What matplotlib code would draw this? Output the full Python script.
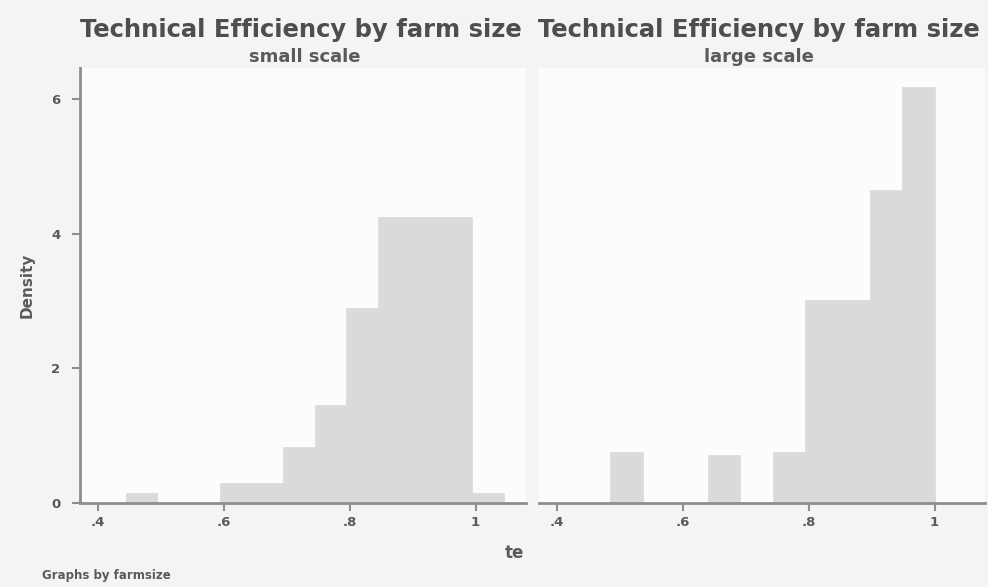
import numpy as np
import matplotlib.pyplot as plt

# histogram bins (te) and densities
small_edges = [0.445, 0.495, 0.545, 0.595, 0.645, 0.695, 0.745, 0.795, 0.845, 0.895, 0.945, 0.995, 1.045]
small_dens = [0.15, 0, 0, 0.30, 0.30, 0.83, 1.46, 2.9, 4.25, 4.25, 4.25, 0.15]

large_edges = [0.485, 0.537, 0.588, 0.640, 0.691, 0.743, 0.795, 0.846, 0.898, 0.949, 1.001]
large_dens = [0.76, 0, 0, 0.71, 0, 0.76, 3.02, 3.02, 4.65, 6.18]

panel_names = ["small scale", "large scale"]
xticks = [0.4, 0.6, 0.8, 1.0]
xticklabels = [".4", ".6", ".8", "1"]
yticks = [0, 2, 4, 6]

W, H = 988, 587
fig = plt.figure(figsize=(W / 100, H / 100), dpi=100, facecolor="#f4f4f4")
plt.rcParams['font.family'] = ['DejaVu Sans']

axcol = "#8e8e8e"
txtcol = "#5a5a5a"

def px(x0, y0, x1, y1):
    return [x0 / W, 1 - y1 / H, (x1 - x0) / W, (y1 - y0) / H]

axes = [fig.add_axes(px(80, 68, 526, 503)), fig.add_axes(px(539, 68, 985, 503))]
data = [(small_edges, small_dens), (large_edges, large_dens)]

for i, (ax, (edges, dens)) in enumerate(zip(axes, data)):
    e = np.array(edges)
    ax.set_facecolor("#fcfcfc")
    ax.bar(e[:-1], dens, width=np.diff(e), align="edge",
           color="#dadada", edgecolor="#dadada", linewidth=0.5)
    ax.set_xlim(0.372, 1.08)
    ax.set_ylim(0, 6.46)
    ax.set_xticks(xticks)
    ax.set_xticklabels(xticklabels, fontsize=9.5, fontweight="bold", color=txtcol)
    for s in ["top", "right"]:
        ax.spines[s].set_visible(False)
    ax.spines["bottom"].set_color(axcol)
    ax.spines["bottom"].set_linewidth(2)
    ax.tick_params(axis="x", colors=axcol, length=6, width=1.5, labelcolor=txtcol)
    if i == 0:
        ax.spines["left"].set_color(axcol)
        ax.spines["left"].set_linewidth(2)
        ax.set_yticks(yticks)
        ax.set_yticklabels([str(v) for v in yticks], fontsize=9.5, fontweight="bold", color=txtcol)
        ax.tick_params(axis="y", colors=axcol, length=6, width=1.5, labelcolor=txtcol, pad=8)
        ax.set_ylabel("Density", fontsize=11, fontweight="bold", color=txtcol, labelpad=12)
    else:
        ax.spines["left"].set_visible(False)
        ax.set_yticks([])

fig.text(301 / W, 1 - 30 / H, "Technical Efficiency by farm size", ha="center", va="center",
         fontsize=17.5, fontweight="bold", color="#4e4e4e")
fig.text(759 / W, 1 - 30 / H, "Technical Efficiency by farm size", ha="center", va="center",
         fontsize=17.5, fontweight="bold", color="#4e4e4e")
fig.text(305 / W, 1 - 57 / H, panel_names[0], ha="center", va="center",
         fontsize=13, fontweight="bold", color=txtcol)
fig.text(759 / W, 1 - 57 / H, panel_names[1], ha="center", va="center",
         fontsize=13, fontweight="bold", color=txtcol)
fig.text(514 / W, 1 - 553 / H, "te", ha="center", va="center",
         fontsize=12, fontweight="bold", color=txtcol)
fig.text(42 / W, 1 - 575 / H, "Graphs by farmsize", ha="left", va="center",
         fontsize=8.5, fontweight="bold", color=txtcol)

fig.savefig("out.png", dpi=100, facecolor=fig.get_facecolor())
